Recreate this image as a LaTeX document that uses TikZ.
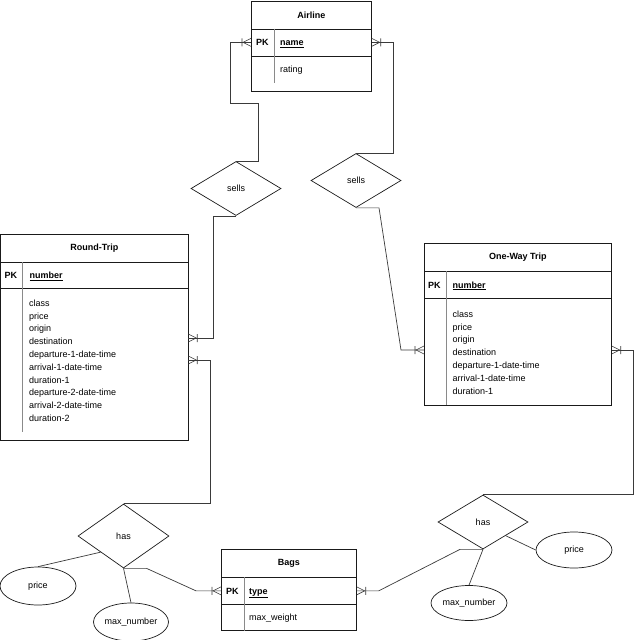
\documentclass[tikz,border=0pt]{standalone}
\usepackage{fontspec}
\setmainfont{Liberation Sans}
\usetikzlibrary{calc,shapes.geometric,decorations.markings}
\definecolor{ink}{HTML}{1A1A1A}
\definecolor{wire}{HTML}{3A3A3A}
\definecolor{rule}{HTML}{8A8A8A}
\newcommand{\ErFont}{\fontsize{9}{12.8}\selectfont}
\tikzset{
  ehead/.style={
    draw=ink, line width=0.7pt, minimum width=#1, minimum height=28,
    inner sep=0pt, anchor=north west, font=\ErFont\bfseries
  },
  erow/.style={
    draw=ink, line width=0.7pt, minimum width=#1,
    inner sep=0pt, anchor=north west
  },
  pk/.style={anchor=base west, inner sep=0pt, font=\ErFont\bfseries},
  key/.style={anchor=base west, inner sep=0pt, font=\ErFont\bfseries},
  attr/.style={anchor=north west, inner sep=0pt, align=left, font=\ErFont},
  divider/.style={rule, line width=0.6pt},
  relship/.style={
    draw=ink, line width=0.7pt, diamond, minimum width=90, minimum height=54,
    inner sep=0pt, font=\ErFont
  },
  attrib/.style={
    draw=ink, line width=0.7pt, ellipse, minimum width=76, minimum height=38,
    inner sep=0pt, font=\ErFont
  },
  link/.style={wire, line width=0.7pt},
  crow/.style={
    postaction={decorate, decoration={markings, mark=at position 1 with {
      \draw[wire, line width=0.6pt] (-8pt,0) -- (0,4pt) (-8pt,0) -- (0,-4pt)
        (-9pt,-4pt) -- (-9pt,4pt);}}}
  },
}

\begin{document}
\begin{tikzpicture}[x=1pt,y=-1pt]
  \useasboundingbox (0,0) rectangle (640,640);

  % Airline
  \node[ehead=120] (airline) at (251,0.5) {Airline};
  \node[erow=120, minimum height=27] (airlinePK) at (251,28.5) {};
  \node[erow=120, minimum height=35] (airlineBody) at (251,55.5) {};
  \draw[divider] ($(airlinePK.north west)+(23,0)$) -- ++(0,54);
  \node[pk] at ($(airlinePK.west)+(5,3.3)$) {PK};
  \node[key] at ($(airlinePK.west)+(29,3.3)$) {\underline{name}};
  \node[attr] at ($(airlineBody.north west)+(29,10.5)$) {rating};

  % Round-Trip
  \node[ehead=187] (rt) at (0.5,234) {Round-Trip};
  \node[erow=187, minimum height=26] (rtPK) at (0.5,262) {};
  \node[erow=187, minimum height=152] (rtBody) at (0.5,288) {};
  \draw[divider] ($(rtPK.north west)+(22,0)$) -- ++(0,170);
  \node[pk] at ($(rtPK.west)+(4,3.3)$) {PK};
  \node[key] at ($(rtPK.west)+(29,3.3)$) {\underline{number}};
  \node[attr] at ($(rtBody.north west)+(28.5,11.5)$) {%
    class\\price\\origin\\destination\\departure-1-date-time\\arrival-1-date-time\\
    duration-1\\departure-2-date-time\\arrival-2-date-time\\duration-2};

  % One-Way Trip
  \node[ehead=187] (ow) at (424,243) {One-Way Trip};
  \node[erow=187, minimum height=27] (owPK) at (424,271) {};
  \node[erow=187, minimum height=107] (owBody) at (424,298) {};
  \draw[divider] ($(owPK.north west)+(22,0)$) -- ++(0,134);
  \node[pk] at ($(owPK.west)+(4,3.3)$) {PK};
  \node[key] at ($(owPK.west)+(28.5,3.3)$) {\underline{number}};
  \node[attr] at ($(owBody.north west)+(28.5,12.5)$) {%
    class\\price\\origin\\destination\\departure-1-date-time\\arrival-1-date-time\\
    duration-1};

  % Bags
  \node[ehead=135] (bags) at (221,549) {Bags};
  \node[erow=135, minimum height=27] (bagsPK) at (221,577) {};
  \node[erow=135, minimum height=26] (bagsBody) at (221,604) {};
  \draw[divider] ($(bagsPK.north west)+(23,0)$) -- (bagsBody.south west -| 244,0);
  \node[pk] at ($(bagsPK.west)+(5,3.3)$) {PK};
  \node[key] at ($(bagsPK.west)+(28,3.3)$) {\underline{type}};
  \node[attr] at ($(bagsBody.north west)+(28,9.5)$) {max\_weight};

  % relationships
  \node[relship] (sellsA) at (236,188.5) {sells};
  \node[relship] (sellsB) at (356,180.5) {sells};
  \node[relship, minimum width=91, minimum height=64] (hasA) at (123.5,536) {has};
  \node[relship] (hasB) at (483,522) {has};

  % attributes
  \node[attrib] (priceA) at (38,586) {price};
  \node[attrib, minimum width=75] (maxA) at (131,622) {max\_number};
  \node[attrib, minimum height=36] (priceB) at (574,550) {price};
  \node[attrib, minimum height=35] (maxB) at (469,603) {max\_number};

  % attach points
  \coordinate (rtA) at ($(rtBody.north east)+(0,50)$);
  \coordinate (rtB) at ($(rtBody.north east)+(0,72)$);
  \coordinate (owL) at ($(owBody.north west)+(0,52)$);
  \coordinate (owR) at ($(owBody.north east)+(0,52)$);

  % connectors
  \draw[link,crow] (sellsA.north) -- ++(22,0) -- ++(0,-58) -- ++(-28,0) |- (airlinePK.west);
  \draw[link,crow] (sellsB.north) -- ++(37,0) |- (airlinePK.east);
  \draw[link,crow] (sellsA.south) -- ++(-23,0) |- (rtA);
  \draw[link,crow] (sellsB.south) -- ++(23,0) -- ($(owL)+(-23,0)$) -- (owL);
  \draw[link,crow] (hasA.north) -- ++(87,0) |- (rtB);
  \draw[link,crow] (hasB.north) -- ++(150,0) |- (owR);
  \draw[link,crow] (hasA.south) -- ++(23,0) -- ($(bagsPK.west)+(-25,0)$) -- (bagsPK.west);
  \draw[link,crow] (hasB.south) -- ++(-23,0) -- ($(bagsPK.east)+(22,0)$) -- (bagsPK.east);

  \draw[link] ($(hasA.west)!0.5!(hasA.south)$) -- (priceA.north);
  \draw[link] (hasA.south) -- (maxA.north);
  \draw[link] ($(hasB.east)!0.5!(hasB.south)$) -- (priceB.west);
  \draw[link] (hasB.south) -- (maxB.north);
\end{tikzpicture}
\end{document}
